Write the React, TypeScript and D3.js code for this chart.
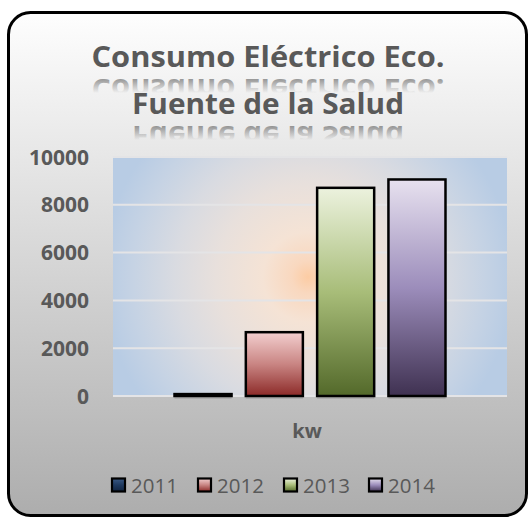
import React from "react";
import * as d3 from "d3";

const categories = ["kw"];
const seriesNames = ["2011", "2012", "2013", "2014"];
const seriesValues = [80, 2670, 8710, 9060];
const yTicks = [0, 2000, 4000, 6000, 8000, 10000];
const titleLines = ["Consumo Eléctrico Eco.", "Fuente de la Salud"];

const barGradients = [
  ["#3b5a85", "#1f3a60", "#10233f"],
  ["#f3cfcf", "#c98583", "#8c2a28"],
  ["#ecf2de", "#a8bd79", "#53692a"],
  ["#e7e1ef", "#9c8dbb", "#3f3151"],
];

const W = 530;
const H = 517;
const plot = { left: 113, right: 507, top: 157, bottom: 396 };

export default function App() {
  const y = d3.scaleLinear().domain([0, 10000]).range([plot.bottom, plot.top]);
  const x0 = d3.scaleBand().domain(categories).range([plot.left, plot.right]).paddingInner(0).paddingOuter(0.227);
  const x1 = d3.scaleBand().domain(seriesNames).range([0, x0.bandwidth()]).paddingInner(0.2).paddingOuter(0);
  const textColor = "#595959";
  const font = "'Open Sans', 'DejaVu Sans', sans-serif";
  const titleBaselines = [67, 114];
  const titleWidths = [353, 272];
  const titleCenter = 268;
  const legendX = [111, 197, 283, 368];

  return (
    <svg width={W} height={H} style={{ position: "absolute", left: 0, top: 0 }} fontFamily={font}>
      <defs>
        <linearGradient id="bg" x1="0" y1="0" x2="0" y2="1">
          <stop offset="0" stopColor="#fefefe" />
          <stop offset="1" stopColor="#adadad" />
        </linearGradient>
        <radialGradient id="plotbg" gradientUnits="userSpaceOnUse" cx={308} cy={277} r={205}>
          <stop offset="0" stopColor="#fcccA4" />
          <stop offset="0.08" stopColor="#f9d8bf" />
          <stop offset="0.22" stopColor="#f5e3d5" />
          <stop offset="0.45" stopColor="#e8e0dc" />
          <stop offset="0.65" stopColor="#d9dbe1" />
          <stop offset="0.85" stopColor="#c6d3e4" />
          <stop offset="1" stopColor="#b8cce4" />
        </radialGradient>
        {barGradients.map((g, i) => (
          <linearGradient key={i} id={`bar${i}`} x1="0" y1="0" x2="0" y2="1">
            <stop offset="0" stopColor={g[0]} />
            <stop offset="0.5" stopColor={g[1]} />
            <stop offset="1" stopColor={g[2]} />
          </linearGradient>
        ))}
        {titleBaselines.map((b, i) => {
          const rb = b + 12;
          return (
            <linearGradient key={i} id={`refl${i}`} gradientUnits="userSpaceOnUse" x1="0" y1={rb} x2="0" y2={rb - 14}>
              <stop offset="0" stopColor={textColor} stopOpacity={0.6} />
              <stop offset="1" stopColor={textColor} stopOpacity={0} />
            </linearGradient>
          );
        })}
      </defs>

      <rect x={8.5} y={12.5} width={518} height={503} rx={22} fill="url(#bg)" stroke="#000" strokeWidth={3} />

      {titleLines.map((t, i) => {
        const rb = titleBaselines[i] + 12;
        return (
          <g key={i}>
            <text
              transform={`translate(0, ${2 * rb}) scale(1,-1)`}
              x={titleCenter}
              y={rb}
              textAnchor="middle"
              fontSize={29}
              fontWeight="bold"
              fill={`url(#refl${i})`}
              textLength={titleWidths[i]}
              lengthAdjust="spacingAndGlyphs"
            >
              {t}
            </text>
            <text
              x={titleCenter}
              y={titleBaselines[i]}
              textAnchor="middle"
              fontSize={29}
              fontWeight="bold"
              fill={textColor}
              textLength={titleWidths[i]}
              lengthAdjust="spacingAndGlyphs"
            >
              {t}
            </text>
          </g>
        );
      })}

      <rect x={plot.left} y={plot.top} width={plot.right - plot.left} height={plot.bottom - plot.top} fill="url(#plotbg)" />

      {yTicks.map((t) => (
        <line key={t} x1={plot.left} x2={plot.right} y1={y(t)} y2={y(t)} stroke="#e4e4e6" strokeWidth={2} />
      ))}

      {yTicks.map((t) => (
        <text key={t} x={89} y={y(t)} dy="0.36em" textAnchor="end" fontSize={21} fontWeight="bold" fill={textColor}>
          {t}
        </text>
      ))}

      {categories.map((c) => (
        <g key={c} transform={`translate(${x0(c)},0)`}>
          {seriesNames.map((s, i) => {
            const bx = x1(s)!;
            const bw = x1.bandwidth();
            const top = y(seriesValues[i]);
            return (
              <g key={s}>
                <line x1={bx} x2={bx + bw} y1={plot.bottom + 2} y2={plot.bottom + 2} stroke="#8a8a8a" strokeWidth={1} opacity={0.7} />
                <rect
                  x={bx}
                  y={top}
                  width={bw}
                  height={plot.bottom - top}
                  fill={`url(#bar${i})`}
                  stroke="#000"
                  strokeWidth={2.5}
                />
              </g>
            );
          })}
        </g>
      ))}

      {categories.map((c) => (
        <text key={c} x={307} y={438} textAnchor="middle" fontSize={20} fontWeight="bold" fill={textColor}>
          {c}
        </text>
      ))}

      {seriesNames.map((s, i) => (
        <g key={s} transform={`translate(${legendX[i]}, 478.5)`}>
          <rect x={1} y={0} width={13} height={13} fill={`url(#bar${i})`} stroke="#000" strokeWidth={2.2} />
          <text x={20} y={14.5} fontSize={20.5} fill={textColor}>
            {s}
          </text>
        </g>
      ))}
    </svg>
  );
}
